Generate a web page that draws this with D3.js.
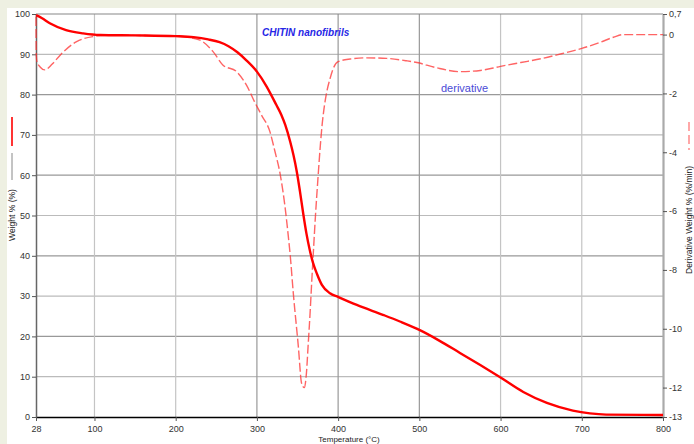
<!DOCTYPE html>
<html>
<head>
<meta charset="utf-8">
<script src="https://cdn.jsdelivr.net/npm/d3@7"></script>
<style>
  html, body { margin: 0; padding: 0; background: #eef0e2; }
  svg { display: block; }
  text { font-family: "Liberation Sans", Arial, sans-serif; }
</style>
</head>
<body>
<svg id="chart" width="694" height="444"></svg>
<script>
// Thermogravimetric data: temperature (°C)
const weightTemp = [28, 35, 45, 65, 86, 107, 150, 200, 222, 240, 254, 265, 276, 287, 300, 312, 324, 330, 335, 341, 345, 349, 353, 357, 361, 365, 369, 374, 380, 390, 400, 423, 456, 476, 500, 525, 550, 575, 600, 628, 657, 689, 710, 730, 800];
// Residual weight (%)
const weightPct = [99.7, 99.0, 97.7, 96.0, 95.2, 94.8, 94.7, 94.5, 94.25, 93.7, 93.0, 92.0, 90.5, 88.5, 85.7, 82.0, 77.4, 75.0, 72.4, 68.3, 65.0, 61.0, 56.0, 50.5, 45.5, 41.5, 38.3, 35.5, 32.8, 30.7, 29.8, 27.8, 25.3, 23.7, 21.6, 18.9, 15.9, 12.9, 9.8, 6.2, 3.5, 1.6, 0.9, 0.6, 0.5];

// Derivative weight curve
const derivTemp = [28, 28.3, 29, 33, 39, 48, 58, 78, 98, 120, 160, 200, 229, 246, 258, 275, 287, 297, 305.5, 316, 322, 328.4, 334.6, 338.7, 341, 344.8, 351, 355, 358.3, 361, 363, 365.4, 367.4, 369.5, 372, 375, 378, 380, 382, 386, 390, 394, 400, 415, 435, 460, 484, 497, 520, 550, 575, 600, 625, 650, 675, 700, 722, 739, 751, 800];
const derivRate = [0.6, -0.6, -0.9, -1.1, -1.2, -1.0, -0.69, -0.24, -0.07, -0.02, -0.03, -0.05, -0.18, -0.58, -1.03, -1.26, -1.71, -2.28, -2.73, -3.3, -3.95, -4.71, -5.85, -6.87, -7.5, -8.79, -10.6, -11.85, -12.0, -11.5, -10.6, -9.5, -8.45, -7.4, -6.2, -4.95, -3.8, -3.15, -2.65, -1.95, -1.5, -1.15, -0.92, -0.83, -0.79, -0.81, -0.89, -0.95, -1.12, -1.26, -1.22, -1.08, -0.95, -0.82, -0.65, -0.47, -0.27, -0.09, 0.0, 0.0];

// Tick values
const xTicks = [28, 100, 200, 300, 400, 500, 600, 700, 800];
const yLeftTicks = [0, 10, 20, 30, 40, 50, 60, 70, 80, 90, 100];
const yRightTicks = [0.7, 0, -2, -4, -6, -8, -10, -12, -13];

const svg = d3.select("#chart");

// white plotting panel on the beige frame
svg.append("rect").attr("x", 7).attr("y", 8).attr("width", 687).attr("height", 436).attr("fill", "#ffffff");

const x = d3.scaleLinear().domain([28, 800]).range([36, 663]);
const yL = d3.scaleLinear().domain([0, 100]).range([417, 14]);
const yR = d3.scaleLinear().domain([-13, 0.7]).range([417, 14]);

// grid
const grid = svg.append("g");
grid.selectAll("line.h").data(yLeftTicks.filter(d => d > 0 && d < 100)).join("line")
  .attr("x1", 36).attr("x2", 663).attr("y1", d => yL(d)).attr("y2", d => yL(d))
  .attr("stroke", (d, i) => i % 2 ? "#999" : "#bbb").attr("stroke-width", 1.2);
grid.selectAll("line.v").data(xTicks.filter(d => d > 28 && d < 800)).join("line")
  .attr("y1", 14).attr("y2", 417).attr("x1", d => x(d)).attr("x2", d => x(d))
  .attr("stroke", (d, i) => i < 2 || i > 4 ? "#c4c4c4" : "#999").attr("stroke-width", 1.2);
// top frame line
grid.append("line").attr("x1", 36).attr("x2", 663).attr("y1", 14).attr("y2", 14)
  .attr("stroke", "#888").attr("stroke-width", 1.2);

// axes
const fmtR = d => d === 0.7 ? "0,7" : String(d);
const axB = svg.append("g").attr("transform", "translate(0,417)")
  .call(d3.axisBottom(x).tickValues(xTicks).tickSize(4).tickSizeOuter(0));
const axL = svg.append("g").attr("transform", "translate(36,0)")
  .call(d3.axisLeft(yL).tickValues(yLeftTicks).tickSize(4).tickSizeOuter(0));
const axR = svg.append("g").attr("transform", "translate(663,0)")
  .call(d3.axisRight(yR).tickValues(yRightTicks).tickFormat(fmtR).tickSize(4).tickSizeOuter(0));

axB.select(".domain").attr("stroke", "#000").attr("stroke-width", 1.5);
axL.select(".domain").attr("stroke", "#666").attr("stroke-width", 1.5);
axR.select(".domain").attr("stroke", "#aaa").attr("stroke-width", 2.2);
[axB, axL, axR].forEach(a => {
  a.selectAll(".tick line").attr("stroke", "#555");
  a.selectAll(".tick text").attr("fill", "#333").attr("font-size", 9)
    .attr("font-family", "'Liberation Sans', Arial, sans-serif");
});
axB.selectAll(".tick text").attr("dy", "0.9em").attr("y", 7);
axL.selectAll(".tick text").attr("x", -6);
axR.selectAll(".tick text").attr("x", 6);

// curves
const derivLine = d3.line().x((d, i) => x(derivTemp[i])).y(d => yR(d)).curve(d3.curveMonotoneX);
svg.append("path").datum(derivRate).attr("d", derivLine)
  .attr("fill", "none").attr("stroke", "#ff3030").attr("stroke-opacity", 0.75)
  .attr("stroke-width", 1.4).attr("stroke-dasharray", "9,3");

const weightLine = d3.line().x((d, i) => x(weightTemp[i])).y(d => yL(d)).curve(d3.curveMonotoneX);
svg.append("path").datum(weightPct).attr("d", weightLine)
  .attr("fill", "none").attr("stroke", "#ff0000").attr("stroke-width", 2.4)
  .attr("stroke-linejoin", "round");

// annotations
svg.append("text").attr("x", 262).attr("y", 35.5).text("CHITIN nanofibrils")
  .attr("fill", "#2626e6").attr("font-size", 10).attr("font-weight", "bold").attr("font-style", "italic");
svg.append("text").attr("x", 441).attr("y", 91.5).text("derivative")
  .attr("fill", "#4a4ad6").attr("font-size", 11);

// axis titles with line-style keys
svg.append("line").attr("x1", 12).attr("x2", 12).attr("y1", 117).attr("y2", 146)
  .attr("stroke", "#ff0000").attr("stroke-width", 1.6);
svg.append("line").attr("x1", 12).attr("x2", 12).attr("y1", 153).attr("y2", 180)
  .attr("stroke", "#888").attr("stroke-width", 1);
svg.append("text").attr("transform", "translate(15,215) rotate(-90)")
  .attr("text-anchor", "middle").attr("font-size", 8.5).attr("fill", "#222").text("Weight % (%)");

svg.append("line").attr("x1", 689).attr("x2", 689).attr("y1", 122).attr("y2", 150)
  .attr("stroke", "#ff3030").attr("stroke-opacity", 0.6).attr("stroke-width", 1.4)
  .attr("stroke-dasharray", "9,4");
svg.append("text").attr("transform", "translate(692,220) rotate(-90)")
  .attr("text-anchor", "middle").attr("font-size", 8.5).attr("fill", "#222").text("Derivative Weight % (%/min)");

svg.append("text").attr("x", 349).attr("y", 442).attr("text-anchor", "middle")
  .attr("font-size", 8).attr("fill", "#222").text("Temperature (°C)");
</script>
</body>
</html>
